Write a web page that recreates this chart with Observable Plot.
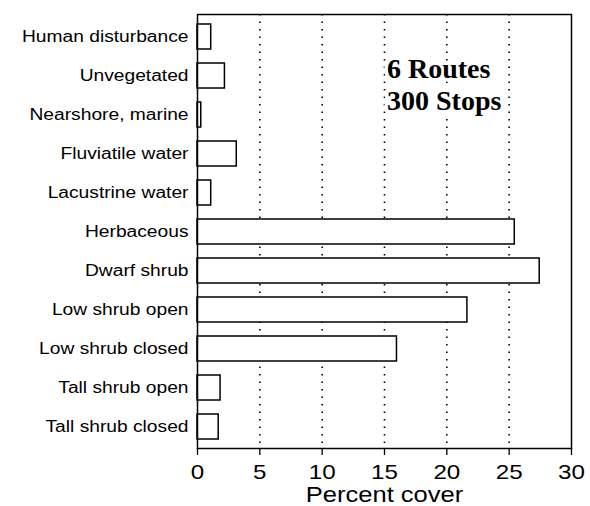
<!DOCTYPE html>
<html><head><meta charset="utf-8">
<script src="https://cdn.jsdelivr.net/npm/d3@7"></script>
<script src="https://cdn.jsdelivr.net/npm/@observablehq/plot@0.6"></script>
<style>body{margin:0;background:#fff}</style>
</head><body><div id="chart"></div>
<script>
const categories = ["Human disturbance","Unvegetated","Nearshore, marine","Fluviatile water","Lacustrine water","Herbaceous","Dwarf shrub","Low shrub open","Low shrub closed","Tall shrub open","Tall shrub closed"];
const cover = [1.1, 2.2, 0.3, 3.15, 1.1, 25.45, 27.45, 21.65, 16.0, 1.85, 1.7];
const xTicks = [0, 5, 10, 15, 20, 25, 30];
const gridTicks = [5, 10, 15, 20, 25];
const noteText = ["6 Routes\n300 Stops"];
const noteX = [15.2];
const noteY = ["Unvegetated"];

const data = categories.map((c, i) => ({category: c, value: cover[i]}));
const notes = noteText.map((t, i) => ({text: t, x: noteX[i], y: noteY[i]}));

const plot = Plot.plot({
  width: 590, height: 506,
  marginTop: 14, marginBottom: 58, marginLeft: 197, marginRight: 19,
  style: {fontFamily: "'Liberation Sans', Arial, sans-serif", background: "#fff", color: "#000"},
  x: {domain: [0, 30]},
  y: {domain: categories, padding: 0},
  marks: [
    Plot.ruleX(gridTicks, {stroke: "#000", strokeWidth: 1.6, strokeDasharray: "1.6,5.9"}),
    Plot.text(notes, {x: "x", y: "y", text: "text", textAnchor: "start", lineAnchor: "top",
      fontFamily: "'Liberation Serif', 'Times New Roman', serif", fontWeight: "bold", fontSize: 28,
      lineHeight: 1.143, dy: -20.5, fill: "#000", stroke: "#fff", strokeWidth: 7}),
    Plot.barX(data, {x: "value", y: "category", fill: "#fff", stroke: "#000", strokeWidth: 1.5, insetTop: 7, insetBottom: 7}),
    Plot.axisX(xTicks, {tickSize: 7, tickPadding: 9, fontSize: 21, strokeWidth: 1.3,
      label: "Percent cover", labelAnchor: "center", labelArrow: "none", labelOffset: 53}),
    Plot.axisY({tickSize: 0, tickPadding: 9, fontSize: 16, label: null}),
    Plot.frame({stroke: "#000", strokeWidth: 1.5})
  ]
});
document.getElementById("chart").append(plot);

function stretch(sel, k, fs) {
  plot.querySelectorAll(sel).forEach(t => {
    if (fs) t.setAttribute("font-size", fs);
    const L = t.getComputedTextLength();
    t.setAttribute("textLength", L * k);
    t.setAttribute("lengthAdjust", "spacingAndGlyphs");
  });
}
stretch('g[aria-label="y-axis tick label"] text', 1.2);
stretch('g[aria-label="x-axis tick label"] text', 1.15);
stretch('g[aria-label="x-axis label"] text', 1.16, 22);
</script>
</body></html>
